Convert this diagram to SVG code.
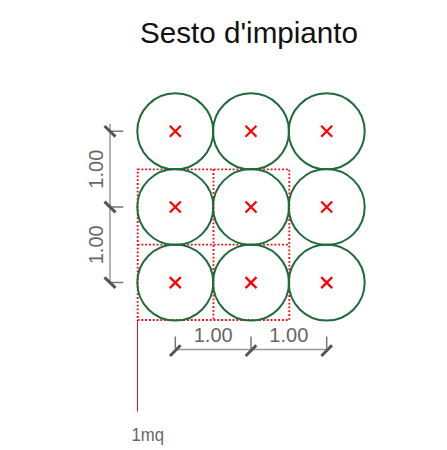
<svg xmlns="http://www.w3.org/2000/svg" width="447" height="450" viewBox="0 0 447 450">
<defs>
<style>
.tree{fill:none;stroke:#1f6b3b;stroke-width:2}
.x{stroke:#f00;stroke-width:2.2;fill:none}
.grid{stroke:#f00;stroke-width:1.8;stroke-dasharray:1.8,2;fill:none}
.dim{stroke:#999;stroke-width:1.5;fill:none}
.ext{stroke:#777;stroke-width:1.5;fill:none}
.tick{stroke:#555;stroke-width:3;fill:none}
.lbl{font-family:"Liberation Sans",Arial,sans-serif;font-size:20px;fill:#666}
.title{font-family:"Liberation Sans",Arial,sans-serif;font-size:30px;fill:#111}
</style>
<g id="cross"><path class="x" d="M-5.5,-5.5L5.5,5.5M5.5,-5.5L-5.5,5.5"/></g>
</defs>
<rect width="447" height="450" fill="#fff"/>
<text class="title" x="249" y="43" text-anchor="middle" textLength="218" lengthAdjust="spacingAndGlyphs">Sesto d'impianto</text>

<g id="grid">
<path class="grid" d="M137.7,169.3H289.3V320H137.7ZM213.5,169.3V320M137.7,244.6H289.3"/>
</g>

<g id="tree-1-1"><circle class="tree" cx="175.3" cy="131.3" r="38"/><use href="#cross" x="175.3" y="131.3"/></g>
<g id="tree-1-2"><circle class="tree" cx="251" cy="131.3" r="38"/><use href="#cross" x="251" y="131.3"/></g>
<g id="tree-1-3"><circle class="tree" cx="326.7" cy="131.3" r="38"/><use href="#cross" x="326.7" y="131.3"/></g>
<g id="tree-2-1"><circle class="tree" cx="175.3" cy="207" r="38"/><use href="#cross" x="175.3" y="207"/></g>
<g id="tree-2-2"><circle class="tree" cx="251" cy="207" r="38"/><use href="#cross" x="251" y="207"/></g>
<g id="tree-2-3"><circle class="tree" cx="326.7" cy="207" r="38"/><use href="#cross" x="326.7" y="207"/></g>
<g id="tree-3-1"><circle class="tree" cx="175.3" cy="282.6" r="38"/><use href="#cross" x="175.3" y="282.6"/></g>
<g id="tree-3-2"><circle class="tree" cx="251" cy="282.6" r="38"/><use href="#cross" x="251" y="282.6"/></g>
<g id="tree-3-3"><circle class="tree" cx="326.7" cy="282.6" r="38"/><use href="#cross" x="326.7" y="282.6"/></g>

<g id="dim-vertical">
<path class="dim" d="M110,124V282.6"/>
<path class="ext" d="M111,131.3H123.3M111,207H123.3M111,282.6H123.3"/>
<path class="tick" d="M104.5,126L115.5,136.6M104.5,201.7L115.5,212.3M104.5,277.3L115.5,287.9"/>
<text class="lbl" transform="translate(103,169.2) rotate(-90)" text-anchor="middle">1.00</text>
<text class="lbl" transform="translate(103,244.8) rotate(-90)" text-anchor="middle">1.00</text>
</g>

<g id="dim-horizontal">
<path class="dim" d="M175.3,349.5H326.7"/>
<path class="ext" d="M175.3,336.5V348.5M251,336.5V348.5M326.7,336.5V348.5"/>
<path class="tick" d="M170,356L180.6,345.2M245.7,356L256.3,345.2M321.4,356L332,345.2"/>
<text class="lbl" x="213.2" y="341.7" text-anchor="middle">1.00</text>
<text class="lbl" x="288.8" y="341.7" text-anchor="middle">1.00</text>
</g>

<g id="area">
<path d="M137.5,320V411.5" stroke="#e8102a" stroke-width="1" fill="none"/>
<text class="lbl" x="131.5" y="441" textLength="32.5" lengthAdjust="spacingAndGlyphs" style="font-size:19px">1mq</text>
</g>
</svg>
